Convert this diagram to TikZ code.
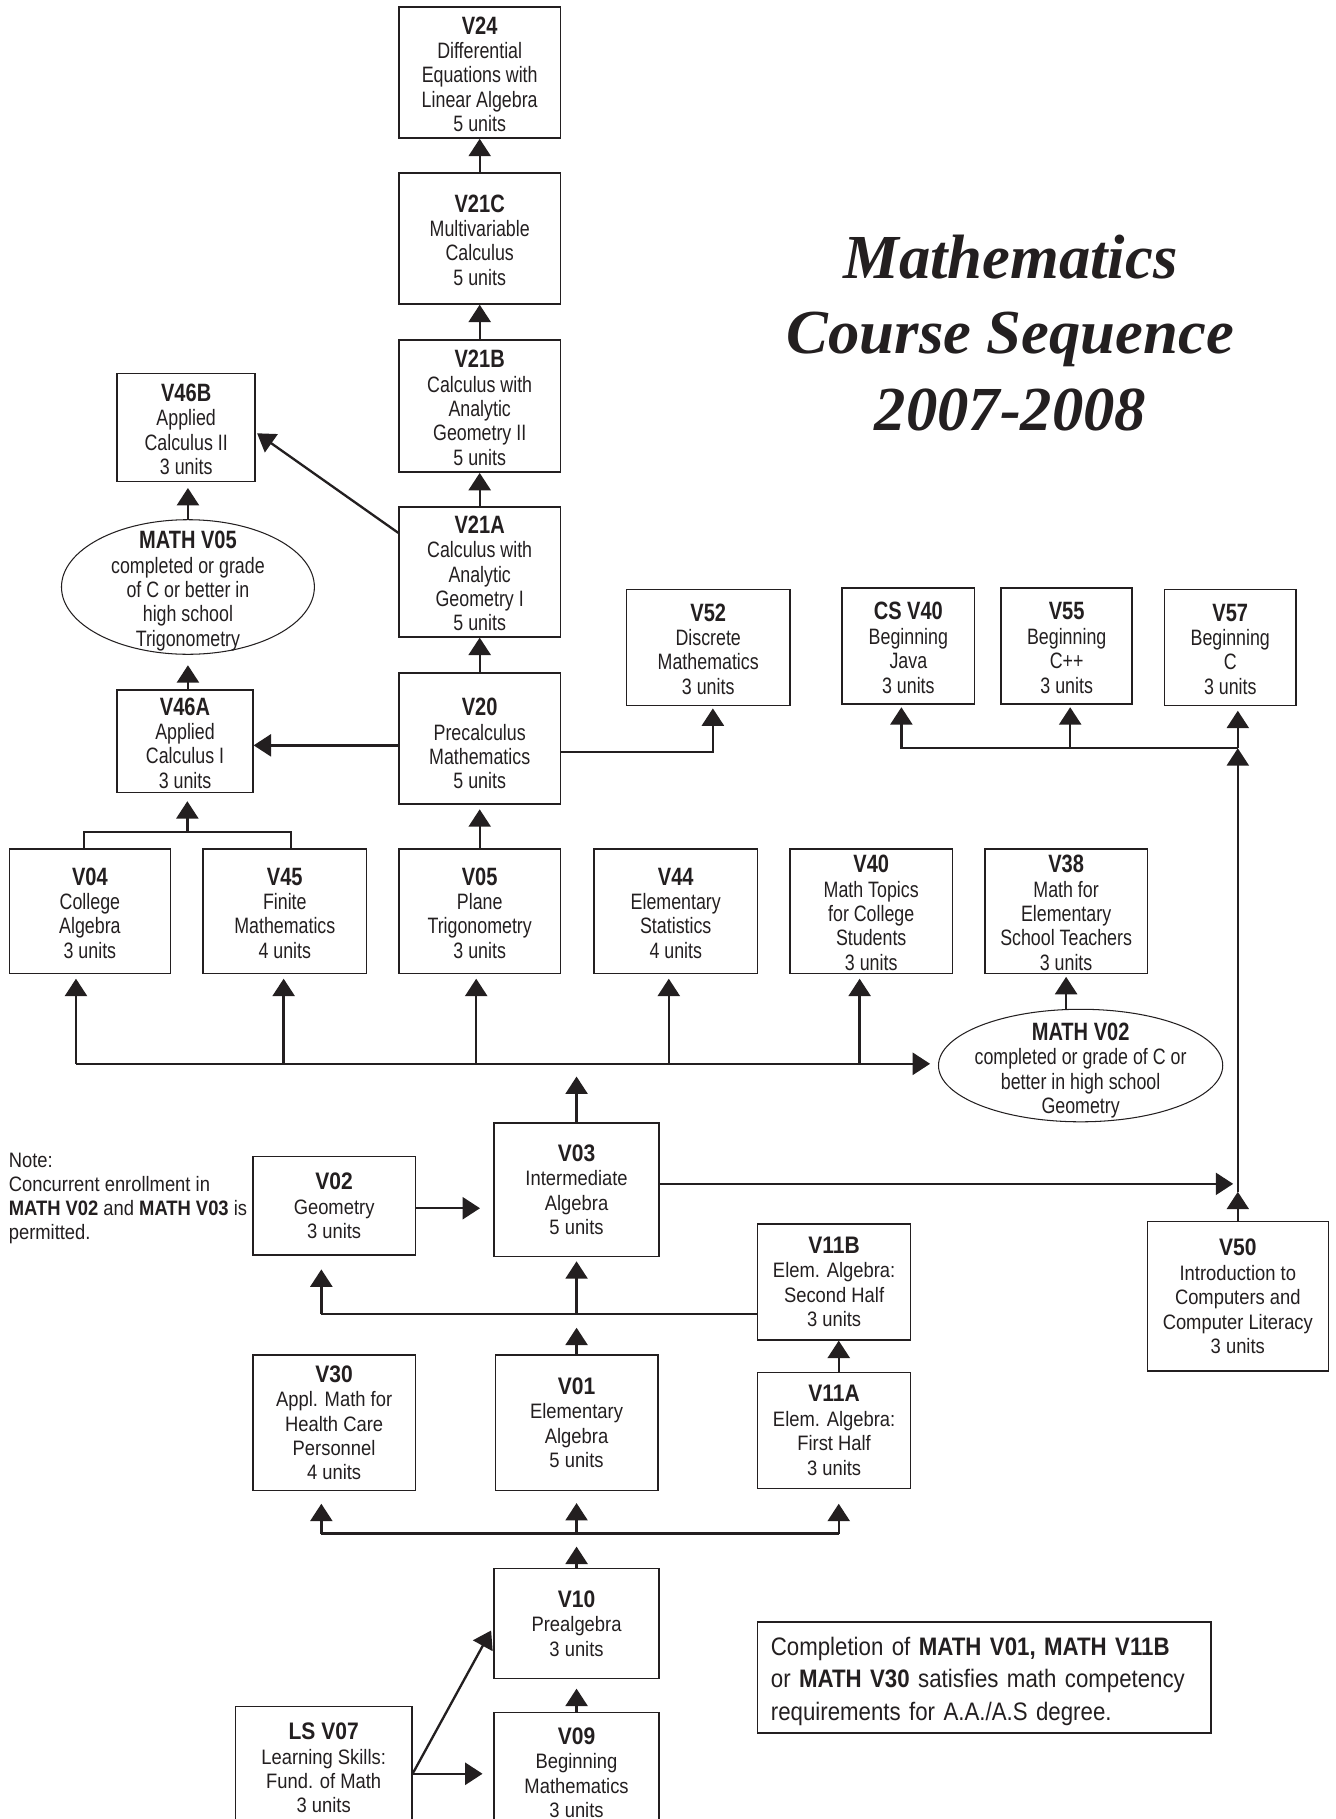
\documentclass[tikz,border=0pt]{standalone}
\usepackage{fontspec}
\usetikzlibrary{arrows.meta,calc,shapes.geometric}
\newfontfamily\upf[FakeStretch=0.8]{Liberation Sans}
\newfontfamily\lowf[FakeStretch=0.88]{Liberation Sans}
\newfontfamily\titf{Liberation Serif}
\definecolor{ink}{HTML}{231F20}
\newcommand\cbox[7]{\node[#2, minimum width={(#5-#3)*0.5pt}, minimum height={(#6-#4)*0.5pt}] (#1) at ({(#3+#5)/2},{(#4+#6)/2}) {#7};}
\newcommand\lh[1]{{\fontsize{10.3}{10.5}\selectfont\bfseries #1}}
\newcommand\uh[1]{{\fontsize{10.8}{10.5}\selectfont\bfseries\rule{0pt}{9pt}#1}}
\begin{document}
\begin{tikzpicture}[x=0.5pt,y=-0.5pt,
  boxbase/.style={draw=ink, line width=0.65pt, inner sep=0pt, align=center, text=ink},
  upbox/.style={boxbase, font=\upf\fontsize{9.6}{10.5}\selectfont},
  lobox/.style={boxbase, font=\lowf\fontsize{9}{10.5}\selectfont},
  uptext/.style={inner sep=0pt, align=center, text=ink, font=\upf\fontsize{9.6}{10.5}\selectfont},
  notetext/.style={inner sep=0pt, align=left, text=ink, font=\lowf\fontsize{9}{10.3}\selectfont},
  cmpbox/.style={boxbase, align=left, inner xsep=5.35pt, text width=184pt, font=\lowf\fontsize{10.9}{14}\selectfont},
  ttl/.style={inner sep=0pt, text=ink, font=\titf\bfseries\itshape\fontsize{27}{32}\selectfont},
  ell/.style={draw=ink, ellipse, line width=0.45pt, inner sep=0pt},
  ln/.style={draw=ink, line width=1pt},
  arr/.style={ln, -{Triangle[length=7.5pt,width=9.5pt]}},
  ]
\useasboundingbox (0,0) rectangle (1151,1568);
\fill[white] (0,0) rectangle (1151,1568);

% title
\node[ttl, anchor=base] (t1) at (871,240) {Mathematics};
\node[ttl, anchor=base] (t2) at (871,305) {Course Sequence};
\node[ttl, anchor=base] (t3) at (871,371) {2007-2008};

% upper boxes
\cbox{v24}{upbox}{344}{6}{483}{119}{\uh{V24}\\Differential\\Equations with\\Linear Algebra\\5 units}
\cbox{v21c}{upbox}{344}{149}{483}{262}{\uh{V21C}\\Multivariable\\Calculus\\5 units}
\cbox{v21b}{upbox}{344}{293}{483}{407}{\uh{V21B}\\Calculus with\\Analytic\\Geometry II\\5 units}
\cbox{v21a}{upbox}{344}{437}{483}{549}{\uh{V21A}\\Calculus with\\Analytic\\Geometry I\\5 units}
\cbox{v20}{upbox}{344}{580}{483}{693}{\uh{\rule{0pt}{12pt}V20}\\Precalculus\\Mathematics\\5 units}
\cbox{v46b}{upbox}{101}{322}{220}{415}{\uh{V46B}\\Applied\\Calculus II\\3 units}
\cbox{v46a}{upbox}{101}{595}{218}{683}{\uh{V46A}\\Applied\\Calculus I\\3 units}
\cbox{v52}{upbox}{540}{508}{681}{608}{\uh{V52}\\Discrete\\Mathematics\\3 units}
\cbox{csv40}{upbox}{726}{507}{840}{607}{\uh{CS V40}\\Beginning\\Java\\3 units}
\cbox{v55}{upbox}{863}{507}{976}{607}{\uh{V55}\\Beginning\\C++\\3 units}
\cbox{v57}{upbox}{1004}{508}{1117}{608}{\uh{V57}\\Beginning\\C\\3 units}
\cbox{v04}{upbox}{8}{732}{147}{839}{\uh{V04}\\College\\Algebra\\3 units}
\cbox{v45}{upbox}{175}{732}{316}{839}{\uh{V45}\\Finite\\Mathematics\\4 units}
\cbox{v05}{upbox}{344}{732}{483}{839}{\uh{V05}\\Plane\\Trigonometry\\3 units}
\cbox{v44}{upbox}{512}{732}{653}{839}{\uh{V44}\\Elementary\\Statistics\\4 units}
\cbox{v40}{upbox}{681}{732}{821}{839}{\uh{V40}\\Math Topics\\for College\\Students\\3 units}
\cbox{v38}{upbox}{849}{732}{989}{839}{\uh{V38}\\Math for\\Elementary\\School Teachers\\3 units}

% ellipses
\node[ell, minimum width=109pt, minimum height=58pt] (v05e) at (162,506) {};
\node[uptext] (v05t) at ($(v05e.center)+(0,2)$) {\uh{MATH V05}\\completed or grade\\of C or better in\\high school\\Trigonometry};
\node[ell, minimum width=122.5pt, minimum height=48.5pt] (v02e) at (931.5,918.5) {};
\node[uptext] (v02t) at ($(v02e.center)+(0,3)$) {\uh{MATH V02}\\completed or grade of C or\\better in high school\\Geometry};

% lower boxes
\cbox{v02}{lobox}{218}{997}{358}{1082}{\lh{V02}\\Geometry\\3 units}
\cbox{v03}{lobox}{426}{968}{568}{1083}{\lh{V03}\\Intermediate\\Algebra\\5 units}
\cbox{v11b}{lobox}{653}{1055}{785}{1155}{\lh{V11B}\\Elem. Algebra:\\Second Half\\3 units}
\cbox{v50}{lobox}{989}{1053}{1145}{1182}{\lh{V50}\\Introduction to\\Computers and\\Computer Literacy\\3 units}
\cbox{v30}{lobox}{218}{1168}{358}{1285}{\lh{V30}\\Appl. Math for\\Health Care\\Personnel\\4 units}
\cbox{v01}{lobox}{427}{1168}{567}{1285}{\lh{V01}\\Elementary\\Algebra\\5 units}
\cbox{v11a}{lobox}{653}{1183}{785}{1283}{\lh{V11A}\\Elem. Algebra:\\First Half\\3 units}
\cbox{v10}{lobox}{426}{1352}{568}{1447}{\lh{V10}\\Prealgebra\\3 units}
\cbox{v09}{lobox}{426}{1476}{568}{1580}{\lh{V09}\\Beginning\\Mathematics\\3 units}
\cbox{lsv07}{lobox}{203}{1471}{355}{1577}{\lh{LS V07}\\Learning Skills:\\Fund. of Math\\3 units}

% notes
\node[notetext, anchor=north west] (note) at (7.2,994) {Note:\\Concurrent enrollment in\\\textbf{MATH V02} and \textbf{MATH V03} is\\permitted.};
\cbox{cmp}{cmpbox}{653}{1398}{1044}{1494}{\rule{0pt}{11pt}Completion of \textbf{MATH V01, MATH V11B}\\or \textbf{MATH V30} satisfies math competency\\requirements for A.A./A.S degree.}

% upper chain
\draw[arr] (v21c.north) -- (v24.south);
\draw[arr] (v21b.north) -- (v21c.south);
\draw[arr] (v21a.north) -- (v21b.south);
\draw[arr] (v20.north) -- (v21a.south);
\draw[arr, shorten >=2pt] (v05.north) -- (v20.south);
\draw[arr] ($(v21a.north west)+(0,23)$) -- ($(v46b.east)+(1,5)$);
\coordinate (p20w) at ($(v20.west)+(0,6)$);
\draw[arr] (p20w) -- (p20w -| v46a.east);
\coordinate (p20e) at ($(v20.east)+(0,12)$);
\draw[arr, shorten >=1pt] (p20e) -| ($(v52.south)+(4,0)$);
\draw[arr, shorten >=2.5pt] (v05e.north) -- (v05e.north |- v46b.south);
\draw[arr, shorten >=4.5pt] (v05e.south |- v46a.north) -- (v05e.south);
\coordinate (br) at (161.5,717);
\draw[ln] ($(v04.north)+(-5,0)$) |- (br) -| ($(v45.north)+(5.5,0)$);
\draw[arr, shorten >=3.5pt] (br) -- (br |- v46a.south);

% bus above V03
\coordinate (bus1) at (65.5,917);
\draw[arr, shorten >=3.4pt] (bus1) -- (bus1 -| v02e.west);
\draw[arr, shorten >=2pt] (bus1) -- (bus1 |- v04.south);
\draw[arr, shorten >=2pt] ($(v45.south |- bus1)+(-1,0)$) -- ($(v45.south)+(-1,0)$);
\draw[arr, shorten >=2pt] ($(v05.south |- bus1)+(-3,0)$) -- ($(v05.south)+(-3,0)$);
\draw[arr, shorten >=2pt] ($(v44.south |- bus1)+(-6,0)$) -- ($(v44.south)+(-6,0)$);
\draw[arr, shorten >=2pt] ($(v40.south |- bus1)+(-10,0)$) -- ($(v40.south)+(-10,0)$);
\draw[arr, shorten >=5.5pt] (v03.north) -- (v03.north |- bus1);
\draw[arr, shorten >=1.2pt] (v38.south |- v02e.north) -- (v38.south);

% computer courses
\coordinate (j1) at ($(v03.east)+(0,-5)$);
\draw[arr, shorten >=2pt] (j1) -- (j1 -| v50.north);
\coordinate (m50) at ($(v50.north)+(0,-25)$);
\draw[arr] (v50.north) -- (m50);
\coordinate (bus2R) at (1067,645);
\draw[arr] (m50) -- (bus2R);
\draw[arr, shorten >=1pt] (bus2R) -| ($(csv40.south)+(-6,0)$);
\draw[arr, shorten >=1pt] ($(v55.south |- bus2R)+(3,0)$) -- ($(v55.south)+(3,0)$);
\draw[arr, shorten >=2pt] (bus2R) -- (bus2R |- v57.south);

% lower part
\coordinate (p02) at ($(v02.east)+(0,2)$);
\draw[arr, shorten >=5.8pt] (p02) -- (p02 -| v03.west);
\coordinate (bus3L) at (277,1132.5);
\draw[ln] (bus3L -| v11b.west) -- (bus3L);
\draw[arr, shorten >=5.8pt] (bus3L) -- (bus3L |- v02.south);
\draw[arr, shorten >=1.8pt] (v03.south |- bus3L) -- (v03.south);
\draw[arr, shorten >=6pt] (v01.north) -- (v01.north |- bus3L);
\draw[arr] ($(v11a.north)+(4,0)$) -- ($(v11b.south)+(4,0)$);
\coordinate (bus4L) at (277,1322);
\coordinate (bus4R) at (723,1322);
\draw[ln] (bus4L) -- (bus4R);
\draw[arr, shorten >=5.3pt] (bus4L) -- (bus4L |- v30.south);
\draw[arr, shorten >=5pt] (v01.south |- bus4L) -- (v01.south);
\draw[arr, shorten >=6.3pt] (bus4R) -- (bus4R |- v11a.south);
\draw[arr, shorten >=5.6pt] (v10.north) -- (v10.north |- bus4L);
\draw[arr, shorten >=4pt] (v09.north) -- (v10.south);
\coordinate (ls0) at ($(lsv07.east)+(0,5)$);
\draw[arr, shorten >=4.7pt] (ls0) -- (ls0 -| v09.west);
\draw[arr] (ls0) -- ($(v10.west)+(-2,6)$);
\end{tikzpicture}
\end{document}
